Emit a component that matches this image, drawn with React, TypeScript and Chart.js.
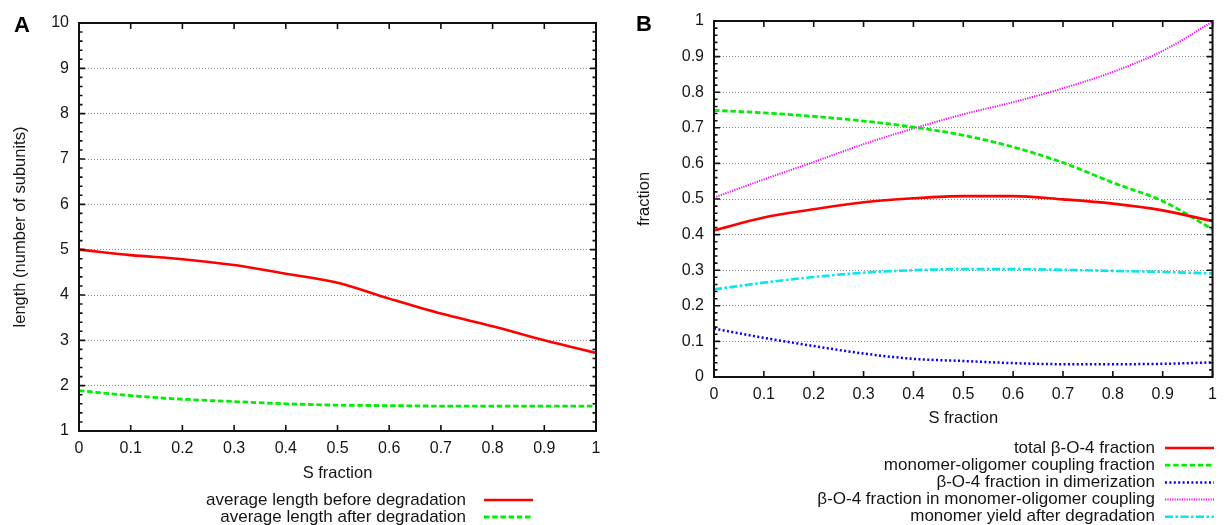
import React, { useEffect, useRef } from "react";
import { Chart, registerables } from "chart.js";

Chart.register(...registerables);

// ---------- data ----------
const sFraction = [0, 0.1, 0.2, 0.3, 0.4, 0.5, 0.6, 0.7, 0.8, 0.9, 1.0];
const xTickLabels = ["0", "0.1", "0.2", "0.3", "0.4", "0.5", "0.6", "0.7", "0.8", "0.9", "1"];

// Panel A
const lengthBefore = [5.0, 4.88, 4.79, 4.66, 4.47, 4.27, 3.92, 3.59, 3.31, 3.0, 2.72];
const lengthAfter = [1.89, 1.78, 1.7, 1.65, 1.6, 1.57, 1.56, 1.55, 1.55, 1.55, 1.55];
const yTickLabelsA = ["1", "2", "3", "4", "5", "6", "7", "8", "9", "10"];

// Panel B
const totalB04 = [0.412, 0.448, 0.471, 0.491, 0.502, 0.508, 0.508, 0.499, 0.487, 0.468, 0.438];
const monomerOligomer = [0.749, 0.742, 0.732, 0.719, 0.702, 0.679, 0.646, 0.602, 0.546, 0.494, 0.415];
const b04Dimerization = [0.136, 0.11, 0.087, 0.066, 0.051, 0.045, 0.039, 0.036, 0.036, 0.037, 0.041];
const b04MonomerOligomer = [0.504, 0.555, 0.604, 0.654, 0.698, 0.738, 0.772, 0.811, 0.857, 0.916, 0.998];
const monomerYield = [0.246, 0.265, 0.281, 0.293, 0.3, 0.303, 0.303, 0.301, 0.298, 0.295, 0.291];
const yTickLabelsB = ["0", "0.1", "0.2", "0.3", "0.4", "0.5", "0.6", "0.7", "0.8", "0.9", "1"];

const FONT = "'Liberation Sans', Arial, Helvetica, sans-serif";
const TEXT = "#151515";

const pts = (ys: number[]) => sFraction.map((x, i) => ({ x, y: ys[i] }));

// ---------- plugins ----------
const gnuplotFrame = {
  id: "gnuplotFrame",
  afterDatasetsDraw(chart: any) {
    const { ctx, chartArea, scales } = chart;
    const { left, right, top, bottom } = chartArea;
    const x = scales.x;
    const y = scales.y;
    ctx.save();
    ctx.strokeStyle = "#111";
    ctx.lineWidth = 1.6;
    ctx.beginPath();
    x.ticks.forEach((t: any) => {
      const px = x.getPixelForValue(t.value);
      ctx.moveTo(px, bottom);
      ctx.lineTo(px, bottom - 6);
      ctx.moveTo(px, top);
      ctx.lineTo(px, top + 6);
    });
    y.ticks.forEach((t: any, i: number) => {
      const py = y.getPixelForValue(t.value);
      ctx.moveTo(left, py);
      ctx.lineTo(left + 6, py);
      ctx.moveTo(right, py);
      ctx.lineTo(right - 6, py);
      const next = y.ticks[i + 1];
      if (next) {
        for (let k = 1; k < 5; k++) {
          const v = t.value + ((next.value - t.value) * k) / 5;
          const pm = y.getPixelForValue(v);
          ctx.moveTo(left, pm);
          ctx.lineTo(left + 3.5, pm);
          ctx.moveTo(right, pm);
          ctx.lineTo(right - 3.5, pm);
        }
      }
    });
    ctx.stroke();
    ctx.lineWidth = 2;
    ctx.strokeRect(left, top, right - left, bottom - top);
    ctx.restore();
  },
};

const gnuplotLegend = {
  id: "gnuplotLegend",
  afterDraw(chart: any, _args: any, opts: any) {
    const { ctx } = chart;
    ctx.save();
    ctx.font = `17px ${FONT}`;
    ctx.fillStyle = TEXT;
    ctx.textAlign = "right";
    ctx.textBaseline = "middle";
    chart.data.datasets.forEach((ds: any, i: number) => {
      const yy = opts.y0 + i * opts.dy;
      ctx.fillText(ds.label, opts.textRight, yy);
      ctx.save();
      ctx.strokeStyle = ds.borderColor;
      ctx.lineWidth = ds.borderWidth;
      ctx.setLineDash(ds.borderDash || []);
      ctx.beginPath();
      ctx.moveTo(opts.sampleX0, yy);
      ctx.lineTo(opts.sampleX1, yy);
      ctx.stroke();
      ctx.restore();
    });
    ctx.restore();
  },
};

const panelLetter = {
  id: "panelLetter",
  afterDraw(chart: any, _args: any, opts: any) {
    const { ctx } = chart;
    ctx.save();
    ctx.font = `bold 22px ${FONT}`;
    ctx.fillStyle = "#000";
    ctx.textAlign = "center";
    ctx.textBaseline = "middle";
    ctx.fillText(opts.text, opts.x, opts.y);
    ctx.restore();
  },
};

// ---------- config builder ----------
function buildConfig(p: {
  datasets: any[];
  yMin: number;
  yMax: number;
  yStep: number;
  yLabels: string[];
  yTitle: string;
  yTitlePad: number;
  yWidth: number;
  xHeight: number;
  padding: { left: number; right: number; top: number; bottom: number };
  legend: any;
  letter: any;
}) {
  return {
    type: "line",
    data: { datasets: p.datasets },
    options: {
      animation: false,
      responsive: false,
      events: [],
      layout: { padding: p.padding },
      elements: { point: { radius: 0 } },
      plugins: {
        legend: { display: false },
        tooltip: { enabled: false },
        gnuplotLegend: p.legend,
        panelLetter: p.letter,
      },
      scales: {
        x: {
          type: "linear",
          min: 0,
          max: 1,
          ticks: {
            stepSize: 0.1,
            padding: 8,
            color: TEXT,
            font: { family: FONT, size: 16 },
            maxRotation: 0,
            autoSkip: false,
            callback: (_v: any, i: number) => xTickLabels[i],
          },
          grid: { display: false, drawTicks: false },
          border: { display: false },
          title: {
            display: true,
            text: "S fraction",
            color: TEXT,
            font: { family: FONT, size: 16.5 },
            padding: { top: 0, bottom: 1.4 },
          },
          afterFit: (s: any) => {
            s.height = p.xHeight;
          },
        },
        y: {
          type: "linear",
          min: p.yMin,
          max: p.yMax,
          ticks: {
            stepSize: p.yStep,
            padding: 10,
            color: TEXT,
            font: { family: FONT, size: 16 },
            autoSkip: false,
            callback: (_v: any, i: number) => p.yLabels[i],
          },
          grid: {
            color: "#8a8a8a",
            lineWidth: 1,
            drawTicks: false,
          },
          border: { display: false, dash: [1, 2] },
          title: {
            display: true,
            text: p.yTitle,
            color: TEXT,
            font: { family: FONT, size: 16.5 },
            padding: { top: p.yTitlePad, bottom: 0 },
          },
          afterFit: (s: any) => {
            s.width = p.yWidth;
          },
        },
      },
    },
    plugins: [gnuplotFrame, gnuplotLegend, panelLetter],
  };
}

function applyGridDash(cfg: any) {
  cfg.options.scales.y.grid.tickBorderDash = [1, 2];
  cfg.options.scales.y.border.dash = [1, 2];
  cfg.options.scales.y.grid.borderDash = [1, 2];
  return cfg;
}

const line = (label: string, ys: number[], color: string, width: number, dash: number[]) => ({
  label,
  data: pts(ys),
  borderColor: color,
  backgroundColor: color,
  borderWidth: width,
  borderDash: dash,
  borderCapStyle: "butt",
  fill: false,
  cubicInterpolationMode: "monotone",
});

export default function App() {
  const refA = useRef<HTMLCanvasElement | null>(null);
  const refB = useRef<HTMLCanvasElement | null>(null);

  useEffect(() => {
    const cfgA: any = applyGridDash(
      buildConfig({
        datasets: [
          line("average length before degradation", lengthBefore, "#ff0000", 2.6, []),
          line("average length after degradation", lengthAfter, "#00ee00", 2.8, [5.5, 2.7]),
        ],
        yMin: 1,
        yMax: 10,
        yStep: 1,
        yLabels: yTickLabelsA,
        yTitle: "length (number of subunits)",
        yTitlePad: 10.4,
        yWidth: 79,
        xHeight: 54,
        padding: { left: 0, right: 16, top: 23, bottom: 40 },
        legend: { textRight: 466, sampleX0: 484, sampleX1: 533, y0: 500, dy: 17 },
        letter: { text: "A", x: 22, y: 26 },
      })
    );
    const cfgB: any = applyGridDash(
      buildConfig({
        datasets: [
          line("total \u03b2-O-4 fraction", totalB04, "#ff0000", 2.6, []),
          line("monomer-oligomer coupling fraction", monomerOligomer, "#00ee00", 2.8, [5.5, 2.7]),
          line("\u03b2-O-4 fraction in dimerization", b04Dimerization, "#0000ff", 2.5, [2, 2.4]),
          line("\u03b2-O-4 fraction in monomer-oligomer coupling", b04MonomerOligomer, "#ff00ff", 2, [1.2, 1.2]),
          line("monomer yield after degradation", monomerYield, "#00e8f0", 2.6, [8, 2.5, 2.5, 2.5]),
        ],
        yMin: 0,
        yMax: 1,
        yStep: 0.1,
        yLabels: yTickLabelsB,
        yTitle: "fraction",
        yTitlePad: 22.4,
        yWidth: 102,
        xHeight: 53,
        padding: { left: 0, right: 6, top: 21, bottom: 95 },
        legend: { textRight: 543, sampleX0: 553, sampleX1: 602, y0: 448, dy: 17.2 },
        letter: { text: "B", x: 32, y: 25 },
      })
    );
    const a = new Chart(refA.current as HTMLCanvasElement, cfgA);
    const b = new Chart(refB.current as HTMLCanvasElement, cfgB);
    return () => {
      a.destroy();
      b.destroy();
    };
  }, []);

  return (
    <div
      style={{
        position: "fixed",
        left: 0,
        top: 0,
        width: 1225,
        height: 525,
        background: "#fff",
        overflow: "hidden",
      }}
    >
      <canvas
        ref={refA}
        width={612}
        height={525}
        style={{ position: "absolute", left: 0, top: 0, width: 612, height: 525, display: "block" }}
      />
      <canvas
        ref={refB}
        width={613}
        height={525}
        style={{ position: "absolute", left: 612, top: 0, width: 613, height: 525, display: "block" }}
      />
    </div>
  );
}
